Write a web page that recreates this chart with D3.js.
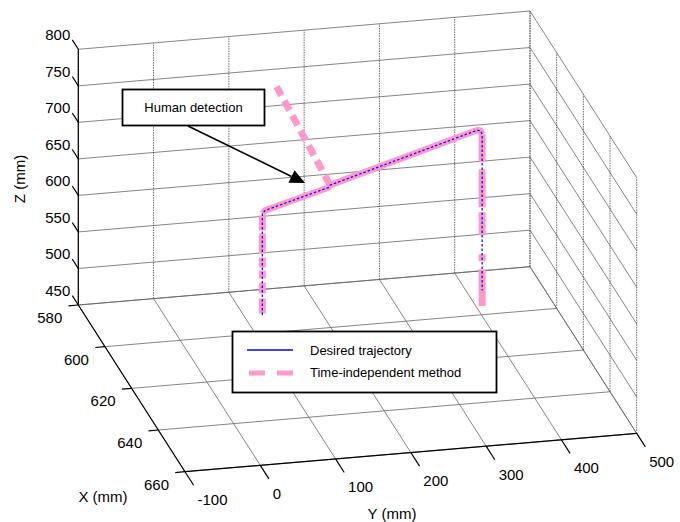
<!DOCTYPE html>
<html lang="en">
<head>
<meta charset="utf-8">
<title>3D trajectory</title>
<script src="https://d3js.org/d3.v7.min.js"></script>
<style>
  body { margin: 0; background: #fff; }
  text { font-family: "Liberation Sans", Arial, Helvetica, sans-serif; fill: #000; }
</style>
</head>
<body>
<svg id="chart" width="680" height="522"></svg>
<script>
// axis ticks (mm)
var xTicks = [580, 600, 620, 640, 660];
var yTicks = [-100, 0, 100, 200, 300, 400, 500];
var zTicks = [450, 500, 550, 600, 650, 700, 750, 800];

// desired trajectory, points [x, y, z] in mm
var desiredPath = [
  [600, 109, 475], [600, 109, 614], [600, 113, 618], [600, 197, 642],
  [600, 199, 645], [600, 394, 703], [600, 399, 702], [600, 401, 697],
  [600, 401, 483]
];

// time-independent method, split into its parts
var timeIndRise = [[600, 109, 477], [600, 109, 614]];
var timeIndTraverse = [
  [600, 109, 614], [600, 113, 618], [600, 197, 642], [600, 199, 645],
  [600, 394, 703], [600, 399, 702], [600, 401, 697]
];
var timeIndEscape = [[600, 199, 645], [600, 128, 786]];
var timeIndDescend = [[600, 401, 697], [600, 401, 462]];

var legendLabels = ["Desired trajectory", "Time-independent method"];
var noteText = "Human detection";

var svg = d3.select("#chart");

// one linear scale per axis (0..1 along the box edge), then a fixed view
var fx = d3.scaleLinear().domain([580, 660]).range([0, 1]);
var fy = d3.scaleLinear().domain([-100, 500]).range([0, 1]);
var fz = d3.scaleLinear().domain([450, 800]).range([0, 1]);
var ORIGIN = [78.3, 305];
var EX = [106.7, 166.7], EY = [451.7, -38.3], EZ = [0, -255.7];

function proj(p) {
  var a = fx(p[0]), b = fy(p[1]), c = fz(p[2]);
  return [ORIGIN[0] + a * EX[0] + b * EY[0] + c * EZ[0],
          ORIGIN[1] + a * EX[1] + b * EY[1] + c * EZ[1]];
}
var line3 = d3.line().x(function (p) { return proj(p)[0]; })
                     .y(function (p) { return proj(p)[1]; });

var xMin = 580, xMax = 660, yMin = -100, yMax = 500, zMin = 450, zMax = 800;

// grid lines
var solidGrid = [], dotGrid = [];
zTicks.forEach(function (z) {
  solidGrid.push([[xMin, yMin, z], [xMin, yMax, z]]);   // back wall
  solidGrid.push([[xMin, yMax, z], [xMax, yMax, z]]);   // right wall
});
yTicks.forEach(function (y) {
  dotGrid.push([[xMin, y, zMin], [xMin, y, zMax]]);     // back wall
  solidGrid.push([[xMin, y, zMin], [xMax, y, zMin]]);   // floor
});
xTicks.forEach(function (x) {
  dotGrid.push([[x, yMax, zMin], [x, yMax, zMax]]);     // right wall
  solidGrid.push([[x, yMin, zMin], [x, yMax, zMin]]);   // floor
});

svg.append("g").selectAll("path").data(solidGrid).join("path")
  .attr("d", line3).attr("fill", "none")
  .attr("stroke", "#666").attr("stroke-width", 0.8);
svg.append("g").selectAll("path").data(dotGrid).join("path")
  .attr("d", line3).attr("fill", "none")
  .attr("stroke", "#444").attr("stroke-width", 0.8)
  .attr("stroke-dasharray", "1.5,1");

// axis lines
var axes = svg.append("g").attr("stroke", "#000").attr("stroke-width", 1.2).attr("fill", "none");
axes.append("path").attr("d", line3([[xMin, yMin, zMin], [xMin, yMin, zMax]]));
axes.append("path").attr("d", line3([[xMin, yMin, zMin], [xMax, yMin, zMin]]));
axes.append("path").attr("d", line3([[xMax, yMin, zMin], [xMax, yMax, zMin]]));

// tick marks
axes.selectAll(".zt").data(zTicks).join("path").attr("class", "zt")
  .attr("d", function (z) { return line3([[xMin, yMin, z], [xMin - 4.5, yMin, z]]); });
axes.selectAll(".xt").data(xTicks).join("path").attr("class", "xt")
  .attr("d", function (x) { return line3([[x, yMin, zMin], [x, yMin - 13, zMin]]); });
axes.selectAll(".yt").data(yTicks).join("path").attr("class", "yt")
  .attr("d", function (y) { return line3([[xMax, y, zMin], [xMax + 6.5, y, zMin]]); });

// tick labels
var labels = svg.append("g").attr("font-size", 15);
labels.selectAll(".zl").data(zTicks).join("text").attr("class", "zl")
  .attr("text-anchor", "end")
  .attr("x", function (z) { return proj([xMin, yMin, z])[0] - 8; })
  .attr("y", function (z) { return proj([xMin, yMin, z])[1] - 9; })
  .text(function (z) { return z; });
labels.selectAll(".xl").data(xTicks).join("text").attr("class", "xl")
  .attr("text-anchor", "end")
  .attr("x", function (x) { return proj([x, yMin, zMin])[0] - 16; })
  .attr("y", function (x) { return proj([x, yMin, zMin])[1] + 18; })
  .text(function (x) { return x; });
labels.selectAll(".yl").data(yTicks).join("text").attr("class", "yl")
  .attr("text-anchor", "start")
  .attr("x", function (y) { return proj([xMax, y, zMin])[0] + 12.5; })
  .attr("y", function (y) { return proj([xMax, y, zMin])[1] + 33.5; })
  .text(function (y) { return y; });

// axis titles
labels.append("text").attr("x", 103).attr("y", 502).attr("text-anchor", "middle").text("X (mm)");
labels.append("text").attr("x", 392).attr("y", 519).attr("text-anchor", "middle").text("Y (mm)");
labels.append("text").attr("transform", "translate(25,179) rotate(-90)")
  .attr("text-anchor", "middle").text("Z (mm)");

// time-independent method (pink, thick)
var PINK = "#ff99cc";
var pink = svg.append("g").attr("fill", "none").attr("stroke", PINK)
  .attr("stroke-width", 7).attr("stroke-linejoin", "round");
pink.append("path").attr("d", line3(timeIndRise)).attr("stroke-dasharray", "15,5,11,4,8,3,10,4,20,3,15");
pink.append("path").attr("d", line3(timeIndTraverse)).attr("stroke-width", 6.5);
pink.append("path").attr("d", line3(timeIndEscape)).attr("stroke-dasharray", "11,6");
pink.append("path").attr("d", line3(timeIndDescend)).attr("stroke-dasharray", "28,7,38,5,23,19,7,8,40");

// desired trajectory (blue, thin)
svg.append("path").attr("d", line3(desiredPath))
  .attr("fill", "none").attr("stroke", "#0000ff").attr("stroke-width", 1.2)
  .attr("stroke-dasharray", "2.5,2");

// annotation box with arrow
var note = svg.append("g");
note.append("rect").attr("x", 122.5).attr("y", 89.5).attr("width", 142).attr("height", 36)
  .attr("fill", "#fff").attr("stroke", "#000").attr("stroke-width", 1.8);
note.append("text").attr("x", 193.5).attr("y", 112).attr("text-anchor", "middle")
  .attr("font-size", 13).text(noteText);
var a0 = [188, 126], a1 = [305, 183];
var dx = a1[0] - a0[0], dy = a1[1] - a0[1], len = Math.sqrt(dx * dx + dy * dy);
var ux = dx / len, uy = dy / len, hl = 15, hw = 7;
var bx = a1[0] - ux * hl, by = a1[1] - uy * hl;
note.append("line").attr("x1", a0[0]).attr("y1", a0[1]).attr("x2", bx).attr("y2", by)
  .attr("stroke", "#000").attr("stroke-width", 1.6);
note.append("polygon").attr("fill", "#000")
  .attr("points", [[a1[0], a1[1]], [bx - uy * hw, by + ux * hw], [bx + uy * hw, by - ux * hw]]
    .map(function (p) { return p.join(","); }).join(" "));

// legend
var legend = svg.append("g");
legend.append("rect").attr("x", 232.5).attr("y", 331.5).attr("width", 264).attr("height", 61)
  .attr("fill", "#fff").attr("stroke", "#000").attr("stroke-width", 1.8);
legend.append("line").attr("x1", 247).attr("x2", 293).attr("y1", 350).attr("y2", 350)
  .attr("stroke", "#0000ff").attr("stroke-width", 1.5);
legend.append("line").attr("x1", 249).attr("x2", 293).attr("y1", 373).attr("y2", 373)
  .attr("stroke", PINK).attr("stroke-width", 5).attr("stroke-dasharray", "16,12");
legend.selectAll(".lt").data(legendLabels).join("text").attr("class", "lt")
  .attr("x", 310).attr("y", function (d, i) { return 354.5 + i * 22.5; })
  .attr("font-size", 13).text(function (d) { return d; });
</script>
</body>
</html>
